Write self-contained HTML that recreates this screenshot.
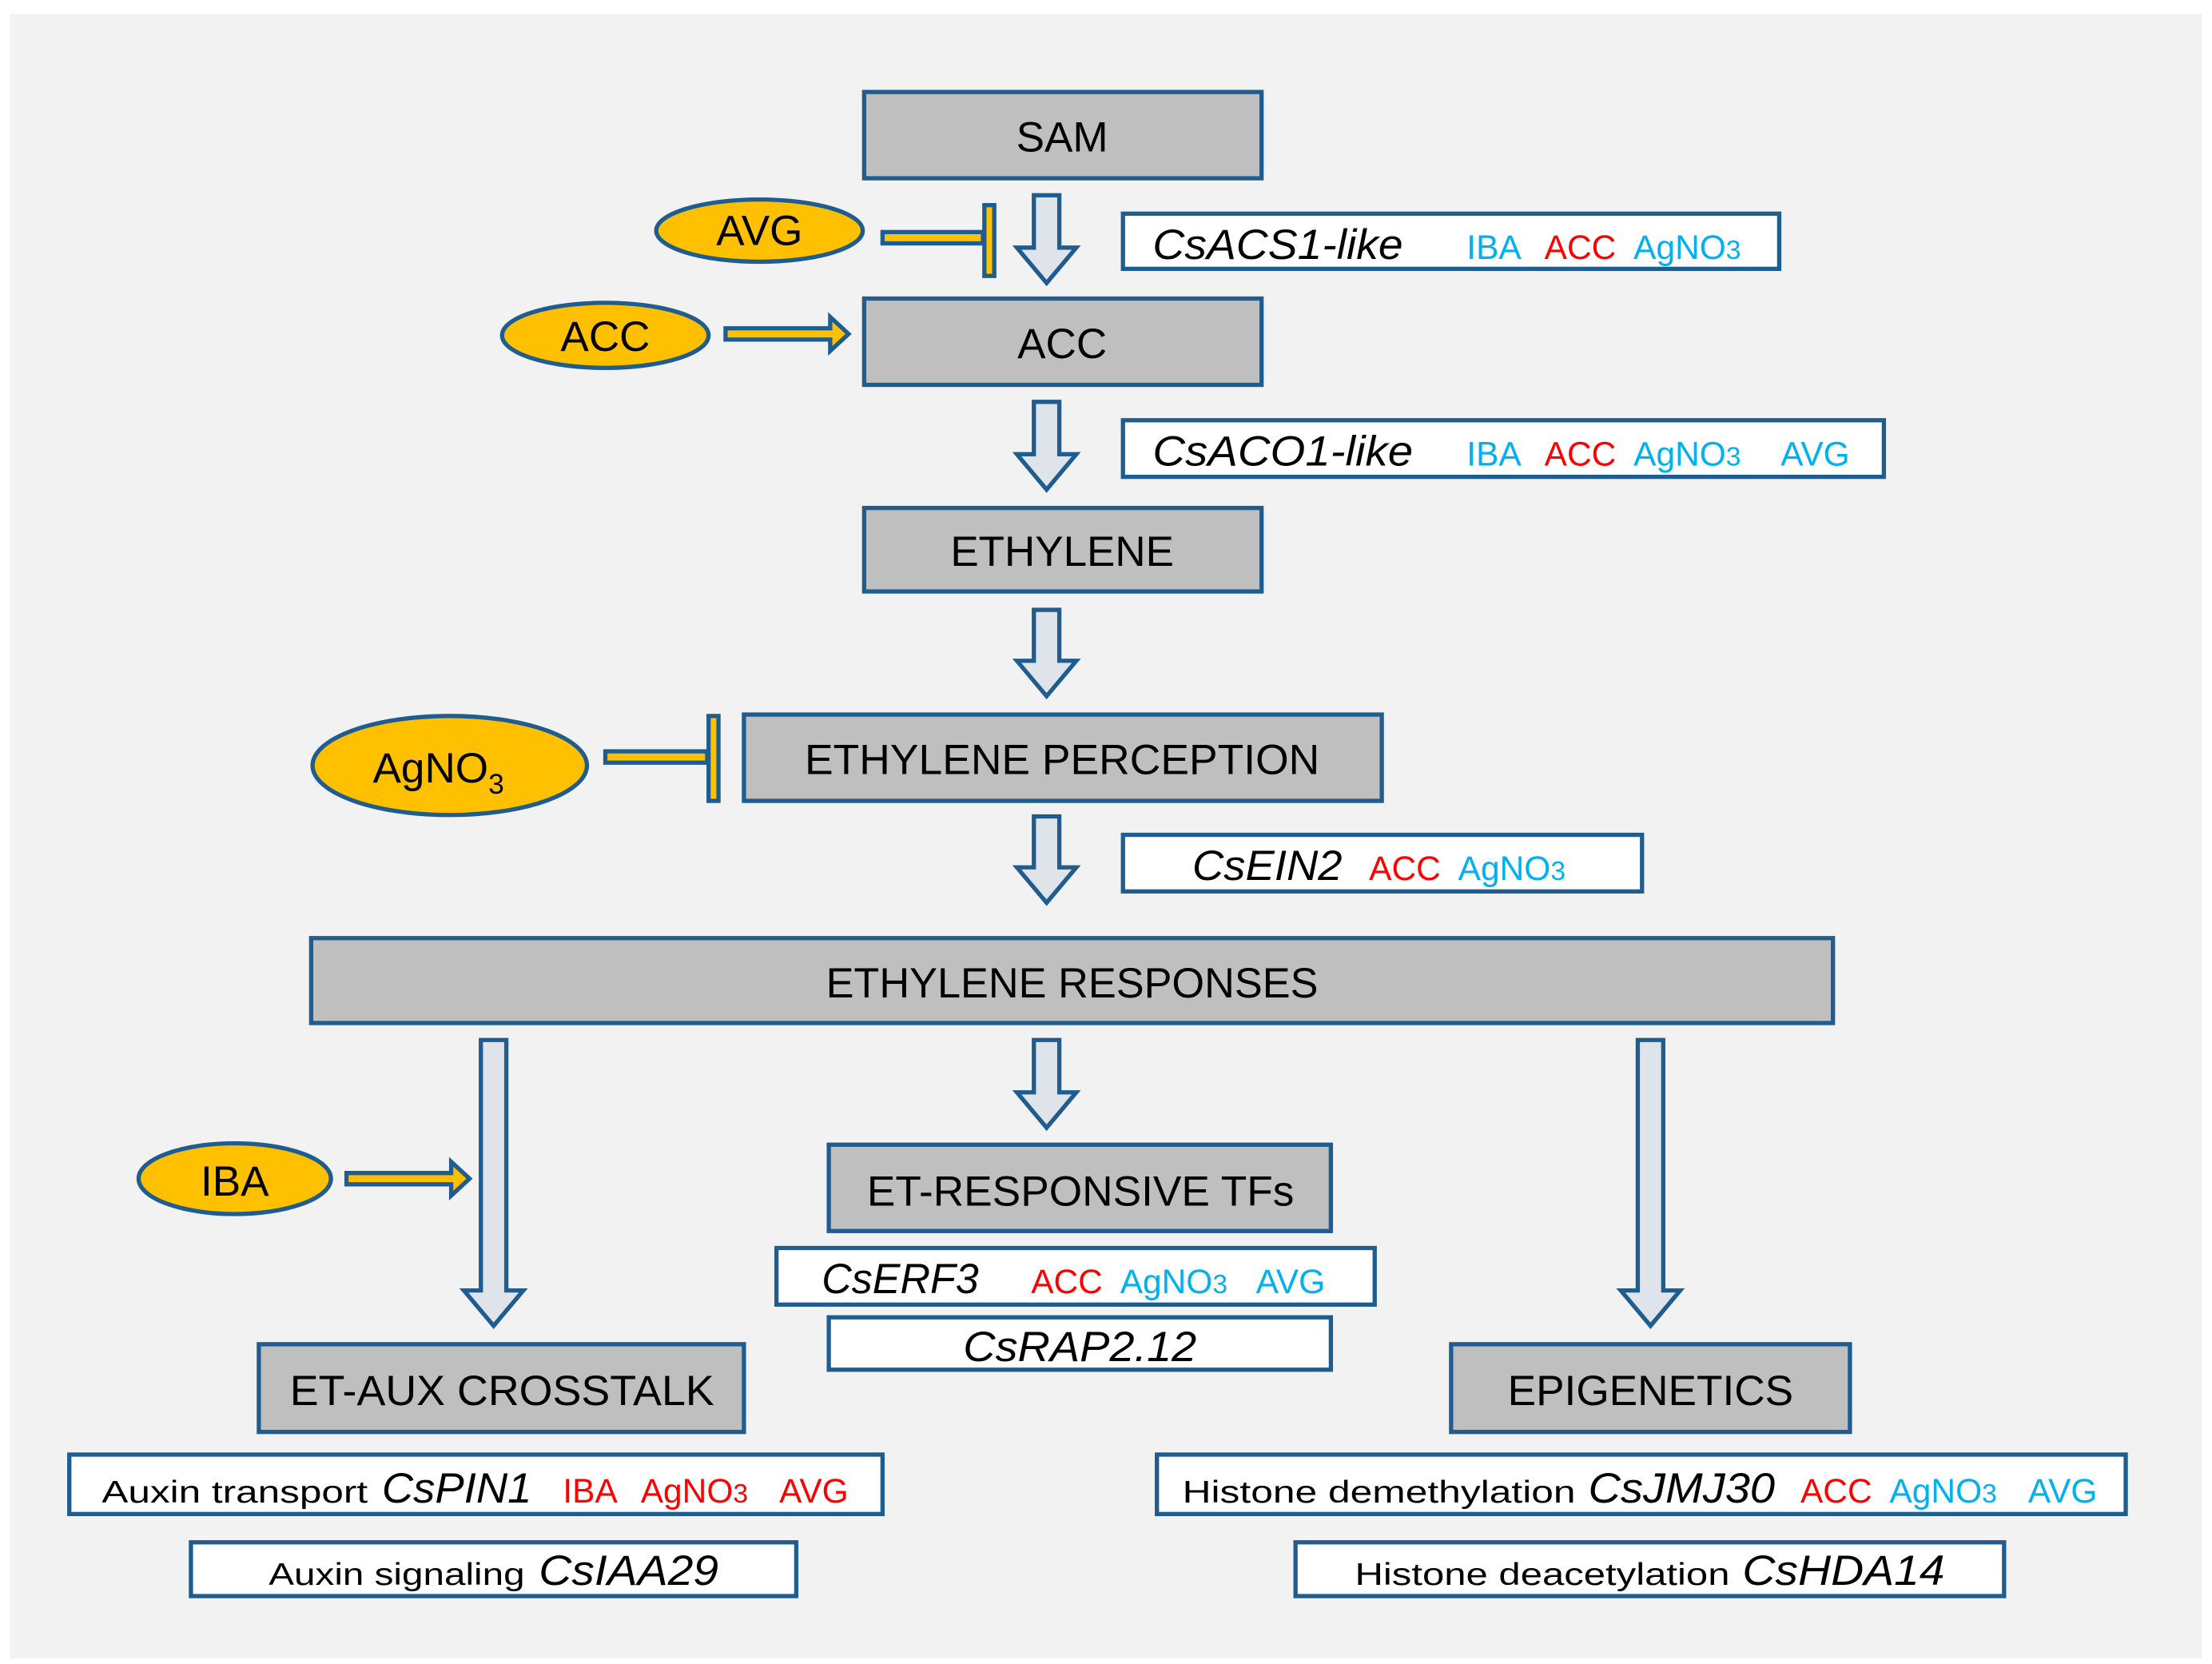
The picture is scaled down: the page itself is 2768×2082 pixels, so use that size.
<!DOCTYPE html>
<html><head><meta charset="utf-8"><style>html,body{margin:0;padding:0;background:#fff}svg{display:block}</style></head>
<body>
<svg width="2768" height="2082" viewBox="0 0 1564 1176" preserveAspectRatio="none" xmlns="http://www.w3.org/2000/svg" font-family="Liberation Sans, sans-serif">
<rect x="0" y="0" width="1564" height="1176" fill="#fff"/>
<rect x="7" y="10" width="1550" height="1162" fill="#f2f2f2"/>
<g fill="#bfbfbf" stroke="#1f5c8f" stroke-width="3">
<rect x="611" y="65" width="281" height="61"/>
<rect x="611" y="211" width="281" height="61"/>
<rect x="611" y="359" width="281" height="59"/>
<rect x="526" y="505" width="451" height="61"/>
<rect x="220" y="663" width="1076" height="60"/>
<rect x="586" y="809" width="355" height="61"/>
<rect x="183" y="950" width="343" height="62"/>
<rect x="1026" y="950" width="282" height="62"/>
</g>
<g fill="#fff" stroke="#1f5c8f" stroke-width="3">
<rect x="794" y="151" width="464" height="39"/>
<rect x="794" y="297" width="538" height="40"/>
<rect x="794" y="590" width="367" height="40"/>
<rect x="549" y="882" width="423" height="40"/>
<rect x="586" y="931" width="355" height="37"/>
<rect x="49" y="1028" width="575" height="42"/>
<rect x="135" y="1090" width="428" height="38"/>
<rect x="818" y="1028" width="685" height="42"/>
<rect x="916" y="1090" width="501" height="38"/>
</g>
<g fill="#dfe4ea" stroke="#1f5c8f" stroke-width="3" stroke-linejoin="miter">
<path d="M731,138 h18 v37 h12 l-21,25 l-21,-25 h12 z"/>
<path d="M731,284 h18 v37 h12 l-21,25 l-21,-25 h12 z"/>
<path d="M731,431 h18 v36 h12 l-21,25 l-21,-25 h12 z"/>
<path d="M731,577 h18 v36 h12 l-21,25 l-21,-25 h12 z"/>
<path d="M731,735 h18 v37 h12 l-21,25 l-21,-25 h12 z"/>
<path d="M340,735 h18 v177 h12 l-21,25 l-21,-25 h12 z"/>
<path d="M1158,735 h18 v177 h12 l-21,25 l-21,-25 h12 z"/>
</g>
<g fill="#ffc000" stroke="#1f5c8f" stroke-width="3">
<ellipse cx="537" cy="163" rx="73" ry="22"/>
<ellipse cx="428" cy="237" rx="73" ry="23"/>
<ellipse cx="318" cy="541" rx="97" ry="35"/>
<ellipse cx="166" cy="833" rx="68" ry="25"/>
<rect x="624" y="164" width="71" height="8"/>
<rect x="696" y="145" width="7" height="50"/>
<rect x="428" y="531" width="72" height="8"/>
<rect x="501" y="506" width="7" height="60"/>
<path d="M513,232 h74 v-8 l13,12 l-13,12 v-8 h-74 z"/>
<path d="M245,829 h74 v-8 l13,12 l-13,12 v-8 h-74 z"/>
</g>
<g font-size="30" text-anchor="middle" fill="#000">
<text x="751" y="107">SAM</text>
<text x="751" y="253">ACC</text>
<text x="751" y="400" textLength="158" lengthAdjust="spacingAndGlyphs">ETHYLENE</text>
<text x="751" y="547" textLength="364" lengthAdjust="spacingAndGlyphs">ETHYLENE PERCEPTION</text>
<text x="758" y="705" textLength="348" lengthAdjust="spacingAndGlyphs">ETHYLENE RESPONSES</text>
<text x="764" y="852" textLength="302" lengthAdjust="spacingAndGlyphs">ET-RESPONSIVE TFs</text>
<text x="355" y="993" textLength="300" lengthAdjust="spacingAndGlyphs">ET-AUX CROSSTALK</text>
<text x="1167" y="993" textLength="202" lengthAdjust="spacingAndGlyphs">EPIGENETICS</text>
<text x="537" y="173">AVG</text>
<text x="428" y="248">ACC</text>
<text x="166" y="845">IBA</text>
<text x="310" y="553">AgNO<tspan font-size="20" dy="8">3</tspan></text>
</g>
<g font-size="30" font-style="italic" fill="#000">
<text x="815" y="183" textLength="177" lengthAdjust="spacingAndGlyphs">CsACS1-like</text>
<text x="815" y="329" textLength="184" lengthAdjust="spacingAndGlyphs">CsACO1-like</text>
<text x="843" y="622" textLength="106" lengthAdjust="spacingAndGlyphs">CsEIN2</text>
<text x="581" y="914" textLength="111" lengthAdjust="spacingAndGlyphs">CsERF3</text>
<text x="681" y="962" textLength="165" lengthAdjust="spacingAndGlyphs">CsRAP2.12</text>
<text x="270" y="1062" textLength="106" lengthAdjust="spacingAndGlyphs">CsPIN1</text>
<text x="381" y="1120" textLength="127" lengthAdjust="spacingAndGlyphs">CsIAA29</text>
<text x="1123" y="1062" textLength="132" lengthAdjust="spacingAndGlyphs">CsJMJ30</text>
<text x="1232" y="1120" textLength="143" lengthAdjust="spacingAndGlyphs">CsHDA14</text>
</g>
<g font-size="22" fill="#000">
<text x="72" y="1062" textLength="188" lengthAdjust="spacingAndGlyphs">Auxin transport</text>
<text x="190" y="1120" textLength="181" lengthAdjust="spacingAndGlyphs">Auxin signaling</text>
<text x="836" y="1062" textLength="278" lengthAdjust="spacingAndGlyphs">Histone demethylation</text>
<text x="958" y="1120" textLength="265" lengthAdjust="spacingAndGlyphs">Histone deacetylation</text>
</g>
<g font-size="24">
<text x="1037" y="183" fill="#00b0f0">IBA</text>
<text x="1092" y="183" fill="#ff0000">ACC</text>
<text x="1155" y="183" fill="#00b0f0">AgNO<tspan font-size="19">3</tspan></text>
<text x="1037" y="329" fill="#00b0f0">IBA</text>
<text x="1092" y="329" fill="#ff0000">ACC</text>
<text x="1155" y="329" fill="#00b0f0">AgNO<tspan font-size="19">3</tspan></text>
<text x="1259" y="329" fill="#00b0f0">AVG</text>
<text x="968" y="622" fill="#ff0000">ACC</text>
<text x="1031" y="622" fill="#00b0f0">AgNO<tspan font-size="19">3</tspan></text>
<text x="729" y="914" fill="#ff0000">ACC</text>
<text x="792" y="914" fill="#00b0f0">AgNO<tspan font-size="19">3</tspan></text>
<text x="888" y="914" fill="#00b0f0">AVG</text>
<text x="398" y="1062" fill="#ff0000">IBA</text>
<text x="453" y="1062" fill="#ff0000">AgNO<tspan font-size="19">3</tspan></text>
<text x="551" y="1062" fill="#ff0000">AVG</text>
<text x="1273" y="1062" fill="#ff0000">ACC</text>
<text x="1336" y="1062" fill="#00b0f0">AgNO<tspan font-size="19">3</tspan></text>
<text x="1434" y="1062" fill="#00b0f0">AVG</text>
</g>
</svg>
</body></html>
